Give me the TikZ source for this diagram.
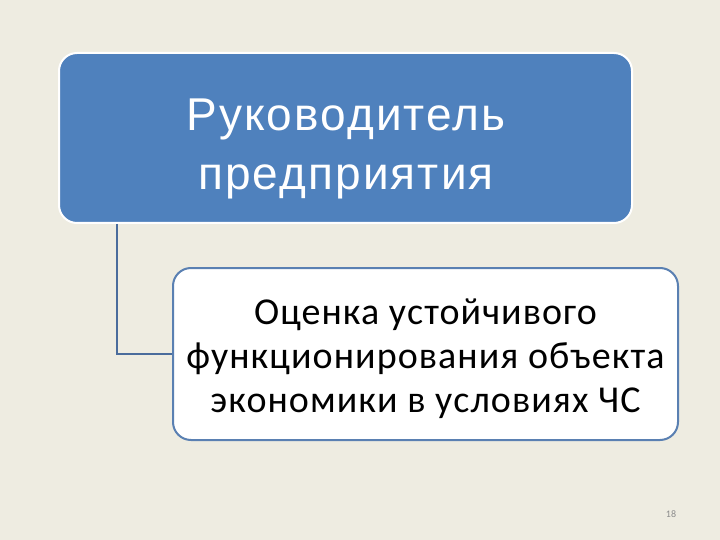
\documentclass[tikz,border=0pt]{standalone}
\usepackage{fontspec}
\setmainfont{Carlito}[LetterSpace=2.8]
\newfontfamily\topfont{Liberation Sans}[LetterSpace=4.5]
\definecolor{bgc}{HTML}{EEECE1}
\definecolor{acc}{HTML}{4F81BD}
\definecolor{bord}{HTML}{5A80B2}
\definecolor{conn}{HTML}{4A6C9C}
\definecolor{pnum}{HTML}{8C8C8C}
\tikzset{
  topbox/.style={draw=white, line width=2pt, fill=acc, rounded corners=18pt, minimum width=573pt, minimum height=170pt, inner sep=0pt, text=white},
  topText/.style={align=center, text=white, inner sep=0pt, font=\topfont\fontsize{46}{59}\selectfont},
  subbox/.style={draw=bord, line width=2pt, fill=white, rounded corners=18pt, minimum width=505pt, minimum height=172pt, inner sep=0pt},
  subText/.style={align=center, text=black, inner sep=0pt, font=\fontsize{38}{44}\selectfont},
  link/.style={draw=conn, line width=2pt}
}
\begin{document}
\begin{tikzpicture}[x=1pt,y=-1pt]
\fill[bgc] (0,0) rectangle (720,540);
\useasboundingbox (0,0) rectangle (720,540);
\node[topbox] (top) at (345.5,138) {};
\node[topText] (toptxt) at (346,149) {Руководитель\\ предприятия};
\node[subbox] (sub) at (425.5,354) {};
\node[subText] (subtxt) at (425.5,359) {Оценка устойчивого\\ функционирования объекта\\ экономики в условиях ЧС};
\coordinate (tap) at (117,224);
\draw[link] (tap) |- (sub.west);
\node[text=pnum, font=\fontsize{10}{12}\selectfont] (num) at (671,514) {18};
\end{tikzpicture}
\end{document}
